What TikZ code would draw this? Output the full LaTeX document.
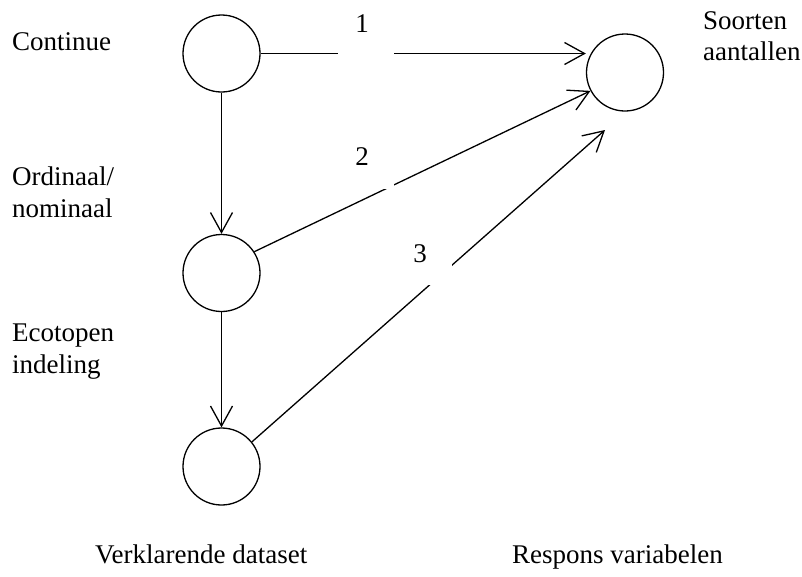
\documentclass[tikz,border=0pt]{standalone}
\usepackage{fontspec}
\setmainfont{Liberation Serif}
\usetikzlibrary{arrows.meta}
\begin{document}
\begin{tikzpicture}[x=1pt,y=-1pt,
  circ/.style={circle,draw,line width=1.3pt,minimum size=77pt,inner sep=0pt},
  conn/.style={line width=1.3pt,-{Straight Barb[length=20pt,width=22pt,line width=1.3pt]}},
  lbl/.style={anchor=base west,inner sep=0pt,font=\fontsize{27}{32}\selectfont},
  num/.style={anchor=base,inner sep=0pt,font=\fontsize{27}{32}\selectfont},
  gapbox/.style={fill=white,inner sep=0pt,minimum width=56pt,minimum height=44pt,anchor=north}]
\useasboundingbox (0,0) rectangle (802,576);
\node[circ] (c1) at (221.5,53.5) {};
\node[circ] (c2) at (221.5,273) {};
\node[circ] (c3) at (221.5,466.5) {};
\node[circ] (r) at (625,72.5) {};
\coordinate (t3) at (605,130);
\draw[conn] (c1.south) -- (c2.north);
\draw[conn] (c2.south) -- (c3.north);
\draw[conn] (c1.east) -- (c1.east -| r.west);
\draw[conn] (c2.33) -- (r.208);
\draw[conn] (c3.39) -- (t3);
\node[gapbox] (b1) at (365.5,12) {};
\node[gapbox] (b2) at (366,145) {};
\node[gapbox] (b3) at (424,241) {};
\node[num] (n1) at (362,32) {1};
\node[num] (n2) at (362,165) {2};
\node[num] (n3) at (420,262) {3};
\node[lbl] (l1) at (12,50) {Continue};
\node[lbl] (l2) at (12,185) {Ordinaal/};
\node[lbl] (l3) at (12,217) {nominaal};
\node[lbl] (l4) at (12,341) {Ecotopen};
\node[lbl] (l5) at (12,373) {indeling};
\node[lbl] (l6) at (703,29) {Soorten};
\node[lbl] (l7) at (703,60) {aantallen};
\node[lbl] (l8) at (95,563) {Verklarende dataset};
\node[lbl] (l9) at (512,563) {Respons variabelen};
\end{tikzpicture}
\end{document}
